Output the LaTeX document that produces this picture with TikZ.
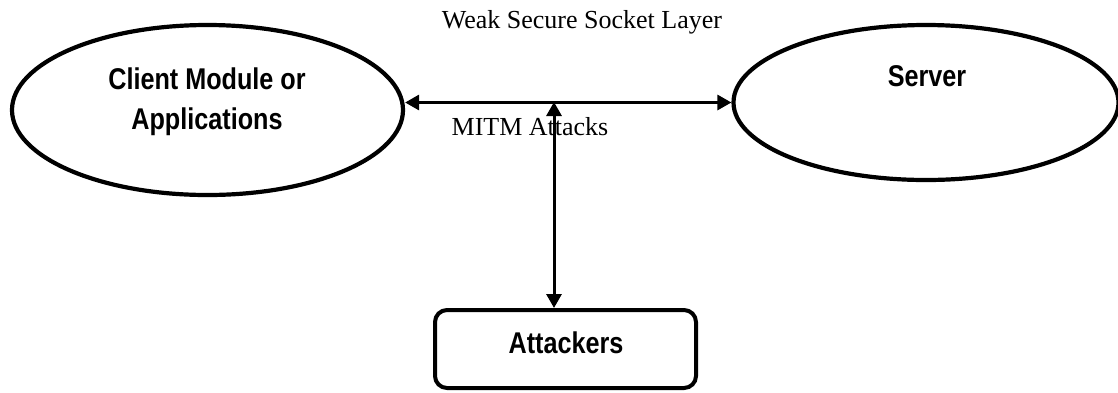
\documentclass[tikz,border=0pt]{standalone}
\usepackage{fontspec}
\setmainfont{Liberation Serif}
\newfontfamily\nbold[FakeStretch=0.84]{Liberation Sans}
\usetikzlibrary{shapes.geometric,arrows.meta}
\begin{document}
\begin{tikzpicture}[x=1pt,y=-1pt,
  ell/.style={draw,ellipse,line width=4.2pt,inner sep=0pt},
  lbl/.style={font=\nbold\bfseries\fontsize{30}{40}\selectfont,align=center,anchor=base},
  captext/.style={font=\fontsize{26}{30}\selectfont,anchor=base,inner sep=0pt},
  conn/.style={line width=3pt,{Triangle[length=14pt,width=15pt]}-{Triangle[length=14pt,width=15pt]}}]
\useasboundingbox (0,0) rectangle (1118,392);
\node[ell,minimum width=391pt,minimum height=170pt] (client) at (207.5,110) {};
\node[ell,minimum width=385pt,minimum height=155pt] (server) at (926,102.5) {};
\node[draw,line width=4pt,rounded corners=12pt,minimum width=261pt,minimum height=78pt,inner sep=0pt] (attackers) at (565.5,349) {};
\node[lbl] (clienttext) at (207,129.5) {Client Module or\\Applications};
\node[lbl] (servertext) at (927,86.7) {Server};
\node[lbl] (attackerstext) at (566,353) {Attackers};
\node[captext] (ssl) at (582,28) {Weak Secure Socket Layer};
\node[captext] (mitm) at (530,135) {MITM Attacks};
\draw[conn] (client.east |- server.west) -- (server.west);
\coordinate (mid) at (554,102);
\draw[conn] (mid) -- (mid |- attackers.north);
\end{tikzpicture}
\end{document}
